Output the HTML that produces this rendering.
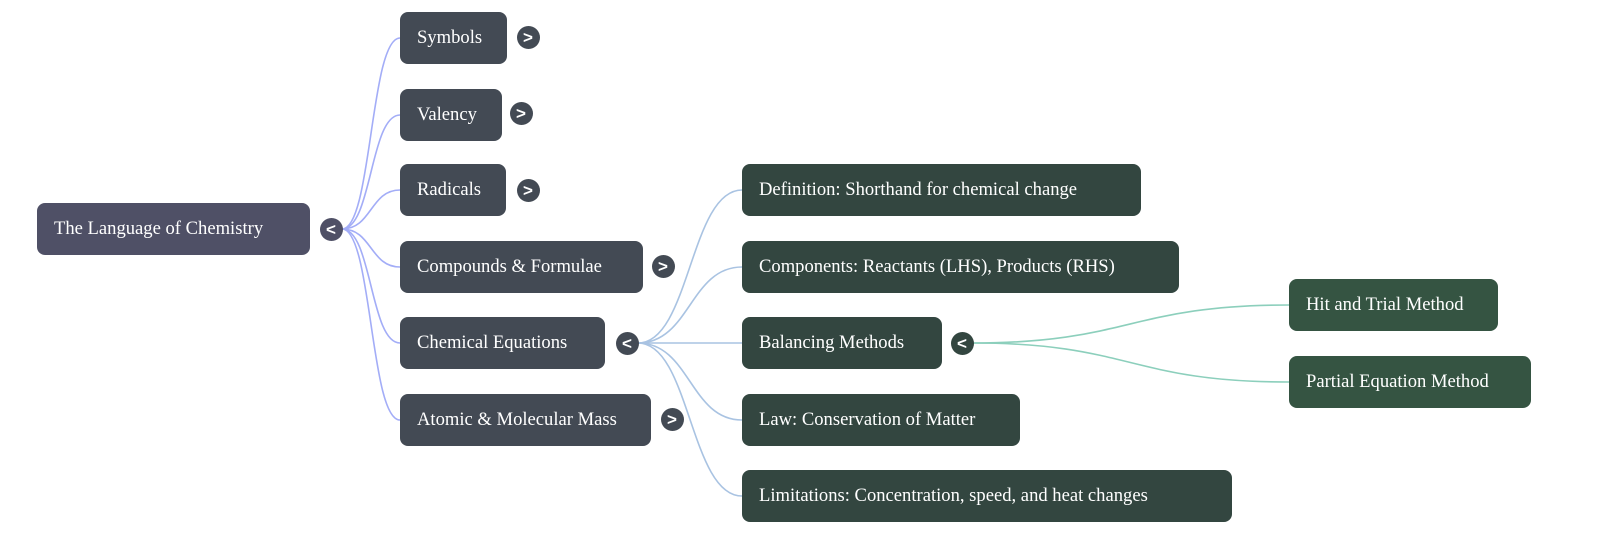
<!DOCTYPE html>
<html><head><meta charset="utf-8"><style>
html,body{margin:0;padding:0;background:#fff;width:1600px;height:535px;overflow:hidden;position:relative;font-family:"Liberation Serif",serif;}
.n{position:absolute;height:52px;line-height:52px;color:#fff;font-size:18.6px;padding-left:17px;box-sizing:border-box;border-radius:8px;white-space:nowrap;}
.r{background:#4f5066;}
.a{background:#434a54;}
.b{background:#334640;}
.c{background:#355442;}
.t{position:absolute;width:23px;height:23px;border-radius:50%;color:#fff;font-family:"Liberation Sans",sans-serif;font-size:17px;font-weight:bold;line-height:23px;text-align:center;margin:-11.5px 0 0 -11.5px;}
svg{position:absolute;left:0;top:0;}
</style></head><body>
<svg width="1600" height="535" fill="none" stroke-width="1.6">
<g stroke="#a3adf7">
<path d="M342 229 C372 229,370 38,400 38"/>
<path d="M342 229 C372 229,370 115,400 115"/>
<path d="M342 229 C372 229,370 190,400 190"/>
<path d="M342 229 C372 229,370 267,400 267"/>
<path d="M342 229 C372 229,370 343,400 343"/>
<path d="M342 229 C372 229,370 420,400 420"/>
</g>
<g stroke="#a9c3e2">
<path d="M638 343 C690 343,690 190,742 190"/>
<path d="M638 343 C690 343,690 267,742 267"/>
<path d="M638 343 L742 343"/>
<path d="M638 343 C690 343,690 420,742 420"/>
<path d="M638 343 C690 343,690 496,742 496"/>
</g>
<g stroke="#8ccfbc">
<path d="M973 343 C1130 343,1130 305,1289 305"/>
<path d="M973 343 C1130 343,1130 382,1289 382"/>
</g>
</svg>
<div class="n r" style="left:37px;top:203px;width:273px;">The Language of Chemistry</div>
<div class="t r" style="left:331px;top:229px;">&lt;</div>

<div class="n a" style="left:400px;top:12px;width:107px;">Symbols</div>
<div class="t a" style="left:528px;top:37px;">&gt;</div>
<div class="n a" style="left:400px;top:89px;width:102px;">Valency</div>
<div class="t a" style="left:521px;top:113px;">&gt;</div>
<div class="n a" style="left:400px;top:164px;width:106px;">Radicals</div>
<div class="t a" style="left:528px;top:190px;">&gt;</div>
<div class="n a" style="left:400px;top:241px;width:243px;">Compounds &amp; Formulae</div>
<div class="t a" style="left:663px;top:266px;">&gt;</div>
<div class="n a" style="left:400px;top:317px;width:205px;">Chemical Equations</div>
<div class="t a" style="left:627px;top:343px;">&lt;</div>
<div class="n a" style="left:400px;top:394px;width:251px;">Atomic &amp; Molecular Mass</div>
<div class="t a" style="left:672px;top:419px;">&gt;</div>

<div class="n b" style="left:742px;top:164px;width:399px;">Definition: Shorthand for chemical change</div>
<div class="n b" style="left:742px;top:241px;width:437px;">Components: Reactants (LHS), Products (RHS)</div>
<div class="n b" style="left:742px;top:317px;width:200px;">Balancing Methods</div>
<div class="t b" style="left:962px;top:343px;">&lt;</div>
<div class="n b" style="left:742px;top:394px;width:278px;">Law: Conservation of Matter</div>
<div class="n b" style="left:742px;top:470px;width:490px;">Limitations: Concentration, speed, and heat changes</div>

<div class="n c" style="left:1289px;top:279px;width:209px;">Hit and Trial Method</div>
<div class="n c" style="left:1289px;top:356px;width:242px;">Partial Equation Method</div>
</body></html>
